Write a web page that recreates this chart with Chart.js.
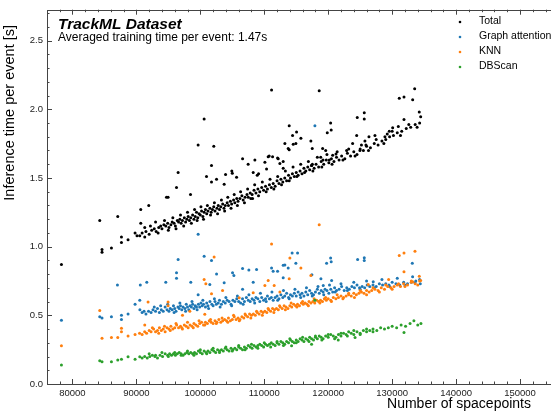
<!DOCTYPE html>
<html>
<head>
<meta charset="utf-8">
<script src="https://cdn.jsdelivr.net/npm/chart.js@4"></script>
<style>
  html, body { margin: 0; padding: 0; background: #fff; overflow: hidden; }
  #wrap { width: 551px; height: 414px; overflow: hidden; }
</style>
</head>
<body>
<div id="wrap"><canvas id="chart" width="590" height="414"></canvas></div>
<script>
// spacepoints are stored in thousands, times in seconds
const seriesLabels = ['Total', 'Graph attention', 'KNN', 'DBScan'];
const seriesColors = ['#000000', '#1f77b4', '#ff7f0e', '#2ca02c'];
const xTicks = [80000, 90000, 100000, 110000, 120000, 130000, 140000, 150000];
const yTicks = [0, 0.5, 1.0, 1.5, 2.0, 2.5];

const totalTime = [
  [78.28,0.87],[84.27,1.19],[84.63,0.98],[84.63,0.96],[86.10,0.99],[87.09,1.22],[87.67,1.07],[87.67,1.03],
  [88.70,1.05],[89.80,1.10],[90.53,1.08],[90.69,1.27],[90.69,1.17],[91.31,1.14],[91.31,1.07],[91.94,1.30],
  [94.71,1.36],[94.96,1.36],[96.28,1.43],[96.53,1.54],[98.47,1.38],[99.66,1.74],[100.60,1.93],[100.97,1.51],
  [101.75,1.59],[101.75,1.47],[102.11,1.73],[102.54,1.49],[103.73,1.455],[103.95,1.525],[104.93,1.55],[105.0,1.535],
  [105.67,1.505],[106.61,1.64],[107.48,1.60],[108.27,1.54],[108.17,1.35],[108.53,1.63],[108.90,1.52],[109.11,1.53],
  [110.10,1.615],[110.36,1.565],[110.61,1.655],[110.77,1.66],[111.14,2.14],[111.30,1.655],[112.08,1.645],[112.18,1.64],
  [112.44,1.605],[112.96,1.62],[112.96,1.57],[113.22,1.75],[113.74,1.715],[113.90,1.88],[113.90,1.705],[114.43,1.81],
  [114.53,1.745],[114.94,1.75],[115.05,1.835],[115.73,1.79],[117.29,1.77],[117.40,1.59],[117.50,1.715],[117.52,1.60],
  [118.59,2.135],[118.83,1.65],[119.13,1.715],[119.19,1.63],[119.61,1.70],[119.85,1.83],[120.17,1.63],[120.38,1.90],
  [120.47,1.85],[120.70,1.665],[121.22,1.675],[122.88,1.70],[123.82,1.75],[124.45,1.81],[124.54,1.94],[124.96,1.70],
  [125.64,1.975],[125.64,1.93],[125.74,1.77],[125.90,1.74],[126.37,1.80],[127.31,1.81],[128.87,1.80],[129.23,1.82],
  [129.55,1.84],[130.08,1.865],[130.96,1.875],[131.11,2.08],[131.85,2.09],[131.85,1.925],[133.21,2.07],[133.52,2.15],
  [134.24,1.98],[134.46,1.945],
  [90.1,1.08],[90.9,1.10],[91.5,1.11],[92.0,1.09],[92.4,1.12],[92.8,1.13],[93.1,1.11],[93.5,1.14],[93.8,1.15],
  [94.0,1.13],[94.3,1.16],[94.6,1.15],[94.9,1.17],[95.1,1.14],[95.4,1.16],[95.6,1.18],[95.9,1.17],[96.1,1.15],
  [96.4,1.19],[96.6,1.18],[96.8,1.20],[97.0,1.17],[97.2,1.19],[97.5,1.21],[97.7,1.18],[97.9,1.20],[98.1,1.22],
  [98.3,1.19],[98.5,1.21],[98.8,1.23],[99.0,1.20],[99.2,1.22],[99.4,1.25],[99.6,1.21],[99.8,1.24],[100.0,1.23],
  [100.2,1.26],[100.4,1.22],[100.6,1.25],[100.8,1.27],[101.0,1.24],[101.2,1.26],[101.5,1.28],[101.7,1.25],
  [101.9,1.27],[102.1,1.29],[102.3,1.26],[102.6,1.28],[102.8,1.30],[103.0,1.27],[103.2,1.29],[103.5,1.31],
  [103.7,1.28],[103.9,1.30],[104.2,1.32],[104.4,1.30],[104.7,1.33],[104.9,1.31],[105.2,1.34],[105.4,1.32],
  [105.7,1.35],[105.9,1.33],[106.2,1.35],[106.5,1.37],[106.7,1.34],[107.0,1.36],[107.3,1.38],[107.5,1.36],
  [107.8,1.39],[108.1,1.38],[108.4,1.41],[108.7,1.39],[109.0,1.42],[109.3,1.40],[109.6,1.43],[109.9,1.41],
  [110.2,1.44],[110.5,1.42],[110.8,1.45],[111.1,1.43],[111.4,1.46],[111.7,1.44],[112.0,1.48],[112.3,1.46],
  [112.6,1.49],[112.9,1.47],[113.2,1.50],[113.5,1.48],[113.8,1.52],[114.1,1.50],[114.4,1.53],[114.7,1.51],
  [115.0,1.54],[115.3,1.52],[115.6,1.55],[115.9,1.53],[116.2,1.57],[116.5,1.55],[116.8,1.58],[117.1,1.56],
  [117.4,1.59],[117.8,1.57],[118.1,1.60],[118.5,1.58],[118.9,1.62],[119.3,1.60],[119.7,1.63],[120.1,1.61],
  [120.5,1.64],[120.9,1.62],[121.3,1.65],[121.7,1.63],[122.1,1.66],[122.6,1.64],[123.0,1.68],[123.5,1.66],
  [124.0,1.69],[124.5,1.67],[125.0,1.71],[125.5,1.70],[126.0,1.73],[126.6,1.72],[127.2,1.75],[127.8,1.74],
  [128.4,1.77],[129.0,1.78],[129.6,1.80],[130.2,1.81],[130.8,1.83],[131.5,1.84],[132.2,1.86],[132.9,1.87],
  [133.6,1.89],[134.3,1.90],
  [92.2,1.15],[93.0,1.18],[93.4,1.10],[94.4,1.19],[95.0,1.12],[95.7,1.21],[96.2,1.13],[96.9,1.23],[97.4,1.15],
  [98.0,1.25],[98.6,1.17],[99.1,1.27],[99.5,1.19],[100.1,1.29],[100.5,1.20],[101.1,1.30],[101.6,1.23],[102.2,1.32],
  [102.7,1.24],[103.3,1.34],[103.8,1.26],[104.3,1.36],[104.8,1.28],[105.3,1.38],[105.8,1.30],[106.3,1.40],
  [106.9,1.32],[107.4,1.42],[107.9,1.35],[108.5,1.45],[109.1,1.37],[109.7,1.47],[110.3,1.40],[110.9,1.49],
  [111.5,1.42],[112.1,1.51],[112.7,1.45],[113.3,1.55],[113.9,1.48],[114.5,1.58],[115.1,1.51],[115.7,1.60],
  [116.3,1.54],[116.9,1.62],[117.6,1.55],[118.3,1.65],[119.0,1.58],[119.8,1.67],[120.6,1.60],[121.4,1.69],
  [122.3,1.63],[123.2,1.71],[124.2,1.66],[125.2,1.74],[126.3,1.70],[127.5,1.78],[128.7,1.75],[130.0,1.84],
  [131.3,1.81],[132.6,1.89],[133.9,1.87]
];

const gatTime = [
  [78.28,0.465],[84.27,0.49],[84.63,0.48],[86.10,0.49],[87.04,0.72],[87.67,0.50],[87.67,0.47],[88.70,0.51],
  [89.80,0.58],[90.62,0.72],[90.53,0.61],[90.55,0.54],[90.9,0.52],[91.2,0.53],[91.5,0.51],[91.63,0.74],
  [91.9,0.53],[92.3,0.52],[92.6,0.54],[93.0,0.53],[93.3,0.55],[93.6,0.52],[93.9,0.54],[94.2,0.53],
  [94.6,0.74],[94.5,0.56],[94.8,0.54],[95.1,0.53],[95.3,0.55],[95.6,0.54],[95.8,0.57],[96.0,0.55],
  [96.28,0.81],[96.28,0.77],[96.2,0.53],[96.53,0.906],[96.5,0.56],[96.7,0.55],[96.9,0.57],[97.1,0.54],
  [97.3,0.56],[97.6,0.55],[97.8,0.58],[98.0,0.56],[98.2,0.54],[98.4,0.57],[98.51,0.74],[98.6,0.56],
  [98.8,0.58],[99.0,0.55],[99.2,0.57],[99.4,0.56],[99.66,0.65],[99.66,1.09],[99.7,0.58],[99.9,0.56],
  [100.1,0.59],[100.3,0.57],[100.6,0.93],[100.5,0.58],[100.8,0.56],[101.0,0.59],[101.2,0.57],[101.49,0.725],
  [101.5,0.60],[101.75,0.90],[101.8,0.58],[102.0,0.57],[102.3,0.60],[102.54,0.80],[102.5,0.58],[102.8,0.59],
  [103.0,0.61],[103.3,0.58],[103.6,0.60],[103.73,0.737],[103.9,0.59],[104.2,0.61],[104.5,0.60],[104.8,0.58],
  [105.04,0.81],[105.25,0.79],[105.1,0.61],[105.4,0.60],[105.7,0.62],[106.0,0.60],[106.3,0.59],[106.61,0.84],
  [106.61,0.69],[106.6,0.62],[106.9,0.60],[107.2,0.63],[107.5,0.61],[107.59,0.83],[107.8,0.60],[108.1,0.62],
  [108.27,0.74],[108.4,0.61],[108.80,0.833],[108.7,0.63],[109.0,0.62],[109.3,0.60],[109.6,0.63],[109.9,0.61],
  [110.2,0.62],[110.5,0.64],[110.8,0.62],[111.14,0.845],[111.39,0.82],[111.1,0.63],[111.4,0.61],[111.7,0.63],
  [112.0,0.64],[112.08,0.82],[112.3,0.62],[112.6,0.65],[112.96,0.865],[112.96,0.773],[112.9,0.63],[113.22,0.867],
  [113.2,0.64],[113.5,0.66],[113.74,0.845],[113.8,0.63],[114.1,0.65],[114.36,0.954],[114.4,0.64],[114.7,0.66],
  [114.94,0.88],[115.0,0.64],[115.21,0.954],[115.3,0.67],[115.6,0.65],[115.9,0.66],[116.2,0.64],[116.5,0.67],
  [116.8,0.65],[117.1,0.68],[117.45,0.795],[117.4,0.66],[117.7,0.65],[117.92,1.88],[118.0,0.67],[118.3,0.69],
  [118.6,0.66],[118.86,0.766],[118.9,0.68],[119.22,0.717],[119.2,0.67],[119.5,0.69],[119.75,0.88],[119.8,0.68],
  [120.1,0.66],[120.38,0.918],[120.47,0.89],[120.53,0.754],[120.4,0.69],[120.7,0.67],[121.0,0.70],[121.3,0.68],
  [121.7,0.69],[122.1,0.71],[122.5,0.68],[122.9,0.70],[123.3,0.69],[123.7,0.71],[124.1,0.70],[124.6,0.906],
  [124.5,0.72],[124.9,0.70],[125.3,0.71],[125.64,0.92],[125.64,0.90],[125.7,0.70],[126.1,0.72],[126.5,0.71],
  [127.04,0.744],[127.0,0.72],[127.5,0.71],[128.0,0.73],[128.5,0.72],[129.0,0.73],[129.5,0.72],[130.0,0.74],
  [130.6,0.73],[131.2,0.72],[131.8,0.74],[132.4,0.73],[133.0,0.74],[133.15,0.88],[133.57,0.737],[133.7,0.75],
  [134.3,0.76],
  [92.8,0.56],[93.8,0.57],[94.9,0.58],[95.9,0.52],[96.8,0.59],[97.7,0.53],[98.7,0.60],[99.5,0.54],[100.4,0.61],
  [101.3,0.55],[102.2,0.62],[103.1,0.56],[104.0,0.63],[104.9,0.57],[105.8,0.64],[106.7,0.58],[107.6,0.65],
  [108.5,0.59],[109.4,0.66],[110.3,0.60],[111.2,0.67],[112.1,0.61],[113.0,0.68],[113.9,0.62],[114.8,0.69],
  [115.7,0.63],[116.6,0.70],[117.5,0.64],[118.4,0.71],[119.3,0.65],[120.2,0.72],[121.1,0.67],[122.0,0.73],
  [123.0,0.68],[124.0,0.74],[125.0,0.69],[126.0,0.75],[127.2,0.70],[128.4,0.76],[129.6,0.71],[130.8,0.77],
  [132.0,0.72],[133.2,0.78],[134.4,0.73]
];

const knnTime = [
  [78.28,0.278],[84.27,0.536],[84.63,0.333],[86.10,0.338],[87.09,0.338],[87.67,0.406],[87.67,0.38],[88.70,0.35],
  [89.80,0.36],[90.5,0.37],[90.9,0.36],[91.31,0.43],[91.3,0.38],[91.6,0.37],[91.83,0.597],[92.0,0.39],
  [92.3,0.38],[92.7,0.40],[93.0,0.38],[93.3,0.39],[93.6,0.41],[93.9,0.39],[94.2,0.40],[94.5,0.38],
  [94.8,0.41],[94.96,0.597],[94.96,0.57],[95.1,0.40],[95.4,0.42],[95.7,0.40],[96.0,0.41],[96.3,0.43],
  [96.6,0.41],[96.9,0.42],[97.21,0.50],[97.2,0.40],[97.5,0.43],[97.8,0.42],[98.1,0.41],[98.36,0.53],
  [98.4,0.43],[98.7,0.42],[99.0,0.44],[99.3,0.43],[99.6,0.42],[99.9,0.44],[100.2,0.45],[100.6,0.76],
  [100.7,0.507],[100.86,0.73],[100.5,0.43],[100.8,0.45],[101.1,0.44],[101.4,0.46],[101.75,0.657],[101.7,0.45],
  [102.0,0.44],[102.16,0.925],[102.3,0.46],[102.6,0.45],[102.9,0.47],[103.2,0.45],[103.48,0.68],[103.5,0.46],
  [103.8,0.47],[104.1,0.46],[104.4,0.48],[104.7,0.46],[105.0,0.47],[105.3,0.49],[105.6,0.47],[105.9,0.48],
  [106.08,0.628],[106.2,0.47],[106.5,0.49],[106.8,0.48],[107.1,0.50],[107.4,0.49],[107.7,0.51],[108.0,0.50],
  [108.27,0.664],[108.3,0.51],[108.6,0.50],[108.9,0.52],[109.2,0.51],[109.5,0.53],[109.8,0.52],[110.1,0.717],
  [110.1,0.53],[110.4,0.52],[110.61,0.753],[110.7,0.54],[111.0,0.53],[111.14,1.02],[111.3,0.55],[111.55,0.717],
  [111.6,0.54],[111.9,0.55],[112.2,0.54],[112.44,0.67],[112.5,0.56],[112.8,0.55],[113.1,0.57],[113.4,0.56],
  [113.7,0.55],[113.9,0.766],[114.0,0.57],[114.01,0.918],[114.3,0.56],[114.6,0.58],[114.9,0.57],[115.2,0.58],
  [115.5,0.57],[115.73,0.845],[115.8,0.59],[116.1,0.58],[116.4,0.59],[116.7,0.58],[117.0,0.60],[117.29,0.79],
  [117.3,0.59],[117.6,0.60],[117.9,0.59],[118.2,0.61],[118.59,1.16],[118.5,0.60],[118.8,0.61],[119.1,0.60],
  [119.4,0.62],[119.7,0.61],[120.0,0.62],[120.4,0.61],[120.8,0.63],[121.2,0.62],[121.6,0.63],[122.0,0.64],
  [122.4,0.63],[122.8,0.64],[123.2,0.65],[123.6,0.64],[124.0,0.66],[124.4,0.65],[124.8,0.66],[125.2,0.67],
  [125.6,0.66],[126.0,0.68],[126.26,0.725],[126.4,0.67],[126.8,0.68],[127.3,0.69],[127.8,0.68],[128.3,0.70],
  [128.8,0.69],[129.3,0.71],[129.45,0.76],[129.8,0.70],[130.3,0.71],[130.8,0.72],[131.11,0.935],[131.3,0.71],
  [131.85,0.954],[131.85,0.817],[131.8,0.73],[132.4,0.72],[133.0,0.74],[133.21,0.744],[133.57,0.966],[133.6,0.73],
  [134.24,0.785],[134.46,0.754],[134.3,0.75],
  [92.5,0.41],[93.5,0.37],[94.4,0.42],[95.3,0.39],[96.2,0.44],[97.1,0.41],[98.0,0.45],[98.9,0.41],[99.8,0.46],
  [100.7,0.43],[101.6,0.47],[102.5,0.44],[103.4,0.48],[104.3,0.45],[105.2,0.50],[106.1,0.46],[107.0,0.51],
  [107.9,0.48],[108.8,0.53],[109.7,0.50],[110.6,0.55],[111.5,0.52],[112.4,0.57],[113.3,0.54],[114.2,0.59],
  [115.1,0.56],[116.0,0.60],[116.9,0.57],[117.8,0.62],[118.7,0.59],[119.6,0.63],[120.5,0.60],[121.4,0.65],
  [122.3,0.62],[123.2,0.66],[124.1,0.63],[125.0,0.68],[126.0,0.65],[127.0,0.70],[128.0,0.67],[129.0,0.72],
  [130.0,0.69],[131.0,0.73],[132.0,0.71],[133.0,0.75],[134.0,0.72]
];

const dbscanTime = [
  [78.28,0.138],[84.27,0.169],[84.63,0.162],[86.10,0.162],[87.09,0.174],[87.67,0.18],[88.70,0.198],[89.80,0.181],
  [90.53,0.198],[90.9,0.19],[91.3,0.20],[91.7,0.19],[92.1,0.20],[92.5,0.21],[92.9,0.20],[93.3,0.19],
  [93.7,0.21],[94.1,0.20],[94.5,0.22],[94.9,0.21],[95.2,0.22],[95.5,0.21],[95.8,0.22],[96.1,0.21],
  [96.4,0.22],[96.7,0.23],[97.0,0.22],[97.3,0.21],[97.6,0.22],[97.9,0.23],[98.2,0.22],[98.5,0.23],
  [98.8,0.22],[99.1,0.23],[99.4,0.22],[99.7,0.24],[100.0,0.23],[100.3,0.22],[100.6,0.24],[100.9,0.23],
  [101.2,0.24],[101.5,0.23],[101.8,0.25],[102.1,0.24],[102.4,0.23],[102.7,0.25],[103.0,0.24],[103.3,0.25],
  [103.6,0.24],[103.9,0.26],[104.2,0.25],[104.5,0.24],[104.8,0.26],[105.1,0.25],[105.4,0.26],[105.7,0.25],
  [106.0,0.27],[106.3,0.26],[106.6,0.25],[106.9,0.27],[107.2,0.26],[107.5,0.28],[107.8,0.27],[108.1,0.26],
  [108.4,0.28],[108.7,0.27],[109.0,0.28],[109.3,0.29],[109.6,0.28],[109.9,0.27],[110.2,0.29],[110.5,0.28],
  [110.8,0.29],[111.1,0.30],[111.4,0.29],[111.7,0.28],[112.0,0.30],[112.3,0.29],[112.6,0.31],[112.9,0.30],
  [113.2,0.29],[113.5,0.31],[113.8,0.30],[114.1,0.32],[114.27,0.278],[114.4,0.31],[114.7,0.30],[115.0,0.32],
  [115.3,0.31],[115.6,0.33],[115.9,0.32],[116.2,0.31],[116.5,0.33],[116.8,0.32],[117.1,0.34],[117.4,0.29],
  [117.4,0.33],[117.7,0.32],[117.92,0.61],[118.0,0.34],[118.3,0.33],[118.6,0.35],[118.9,0.34],[119.2,0.33],
  [119.6,0.35],[120.0,0.34],[120.4,0.36],[120.8,0.35],[121.2,0.34],[121.57,0.32],[121.6,0.36],[122.0,0.35],
  [122.4,0.37],[122.8,0.36],[123.2,0.38],[123.6,0.37],[124.0,0.36],[124.2,0.338],[124.5,0.38],[125.0,0.37],
  [125.5,0.39],[126.0,0.38],[126.5,0.39],[127.0,0.40],[127.6,0.39],[128.2,0.41],[128.8,0.40],[129.4,0.41],
  [130.0,0.42],[130.7,0.41],[131.4,0.43],[131.85,0.375],[132.1,0.42],[132.8,0.44],[133.4,0.46],[134.0,0.43],
  [134.5,0.44],
  [92.0,0.22],[93.0,0.21],[94.0,0.23],[95.0,0.20],[96.0,0.23],[97.0,0.21],[98.0,0.24],[99.0,0.21],[100.0,0.25],
  [101.0,0.22],[102.0,0.26],[103.0,0.23],[104.0,0.27],[105.0,0.24],[106.0,0.28],[107.0,0.25],[108.0,0.29],
  [109.0,0.26],[110.0,0.30],[111.0,0.27],[112.0,0.31],[113.0,0.28],[114.0,0.33],[115.0,0.30],[116.0,0.34],
  [117.0,0.31],[118.0,0.35],[119.0,0.32],[120.0,0.36],[121.0,0.33],[122.0,0.37],[123.0,0.35],[124.0,0.39],
  [125.0,0.36],[126.0,0.40],[127.0,0.38]
];

const seriesData = [totalTime, gatTime, knnTime, dbscanTime];

function toPoints(arr) {
  return arr.map(p => ({ x: p[0] * 1000, y: p[1] }));
}

// frame with inward ticks on all four sides
const frameTicks = {
  id: 'frameTicks',
  afterDraw(chart) {
    const { ctx, chartArea: a, scales: { x, y } } = chart;
    ctx.save();
    ctx.strokeStyle = '#444';
    ctx.lineWidth = 1;
    ctx.strokeRect(Math.round(a.left) + 0.5, Math.round(a.top) + 0.5, Math.round(a.width), Math.round(a.height));
    ctx.beginPath();
    for (let v = 76000; v <= 160000; v += 2000) {
      if (v < x.min || v > x.max) continue;
      const px = Math.round(x.getPixelForValue(v)) + 0.5;
      const len = v % 10000 === 0 ? 5 : 2.5;
      ctx.moveTo(px, a.bottom); ctx.lineTo(px, a.bottom - len);
      ctx.moveTo(px, a.top); ctx.lineTo(px, a.top + len);
    }
    for (let i = 0; i <= 27; i++) {
      const py = Math.round(y.getPixelForValue(i / 10)) + 0.5;
      const len = i % 5 === 0 ? 5 : 2.5;
      ctx.moveTo(a.left, py); ctx.lineTo(a.left + len, py);
      ctx.moveTo(a.right, py); ctx.lineTo(a.right - len, py);
    }
    ctx.stroke();
    ctx.restore();
  }
};

// titles, axis labels and the in-plot legend
const textLayer = {
  id: 'textLayer',
  afterDraw(chart) {
    const { ctx } = chart;
    ctx.save();
    ctx.fillStyle = '#000';
    ctx.textBaseline = 'alphabetic';
    ctx.textAlign = 'left';
    ctx.font = 'italic bold 15.5px "Liberation Sans", Arial, sans-serif';
    ctx.fillText('TrackML Dataset', 58, 29);
    ctx.font = '12px "Liberation Sans", Arial, sans-serif';
    ctx.fillText('Averaged training time per event: 1.47s', 58, 41);

    ctx.font = '14px "Liberation Sans", Arial, sans-serif';
    ctx.textAlign = 'right';
    ctx.fillText('Number of spacepoints', 531, 408);

    ctx.save();
    ctx.translate(14, 25);
    ctx.rotate(-Math.PI / 2);
    ctx.font = '14.5px "Liberation Sans", Arial, sans-serif';
    ctx.fillText('Inference time per event [s]', 0, 0);
    ctx.restore();

    ctx.font = '10.5px "Liberation Sans", Arial, sans-serif';
    ctx.textAlign = 'left';
    ctx.textBaseline = 'middle';
    chart.data.datasets.forEach((ds, i) => {
      const yy = 21 + i * 15;
      ctx.fillStyle = ds.backgroundColor;
      ctx.beginPath();
      ctx.arc(460, yy + 1, 1.3, 0, Math.PI * 2);
      ctx.fill();
      ctx.fillStyle = '#000';
      ctx.fillText(ds.label, 479, yy);
    });
    ctx.restore();
  }
};

const tickFont = { family: '"Liberation Sans", Arial, sans-serif', size: 9.5 };

new Chart(document.getElementById('chart'), {
  type: 'scatter',
  data: {
    datasets: seriesLabels.map((label, i) => ({
      label: label,
      data: toPoints(seriesData[i]),
      backgroundColor: seriesColors[i],
      borderWidth: 0,
      pointRadius: 1.5,
      order: 4 - i
    }))
  },
  options: {
    responsive: false,
    animation: false,
    layout: { padding: { top: 9, right: 6, left: 0, bottom: 0 } },
    plugins: { legend: { display: false }, tooltip: { enabled: false } },
    scales: {
      x: {
        type: 'linear',
        min: 76025,
        max: 160000,
        grid: { display: false, drawTicks: false },
        border: { display: false },
        ticks: { font: tickFont, color: '#222', padding: 4, maxRotation: 0, callback: v => String(v) },
        afterBuildTicks: s => { s.ticks = xTicks.map(v => ({ value: v })); },
        afterFit: s => { s.height = 30; }
      },
      y: {
        min: 0,
        max: 2.725,
        grid: { display: false, drawTicks: false },
        border: { display: false },
        ticks: { font: tickFont, color: '#222', padding: 4, callback: v => v.toFixed(1) },
        afterBuildTicks: s => { s.ticks = yTicks.map(v => ({ value: v })); },
        afterFit: s => { s.width = 47; }
      }
    }
  },
  plugins: [frameTicks, textLayer]
});
</script>
</body>
</html>
